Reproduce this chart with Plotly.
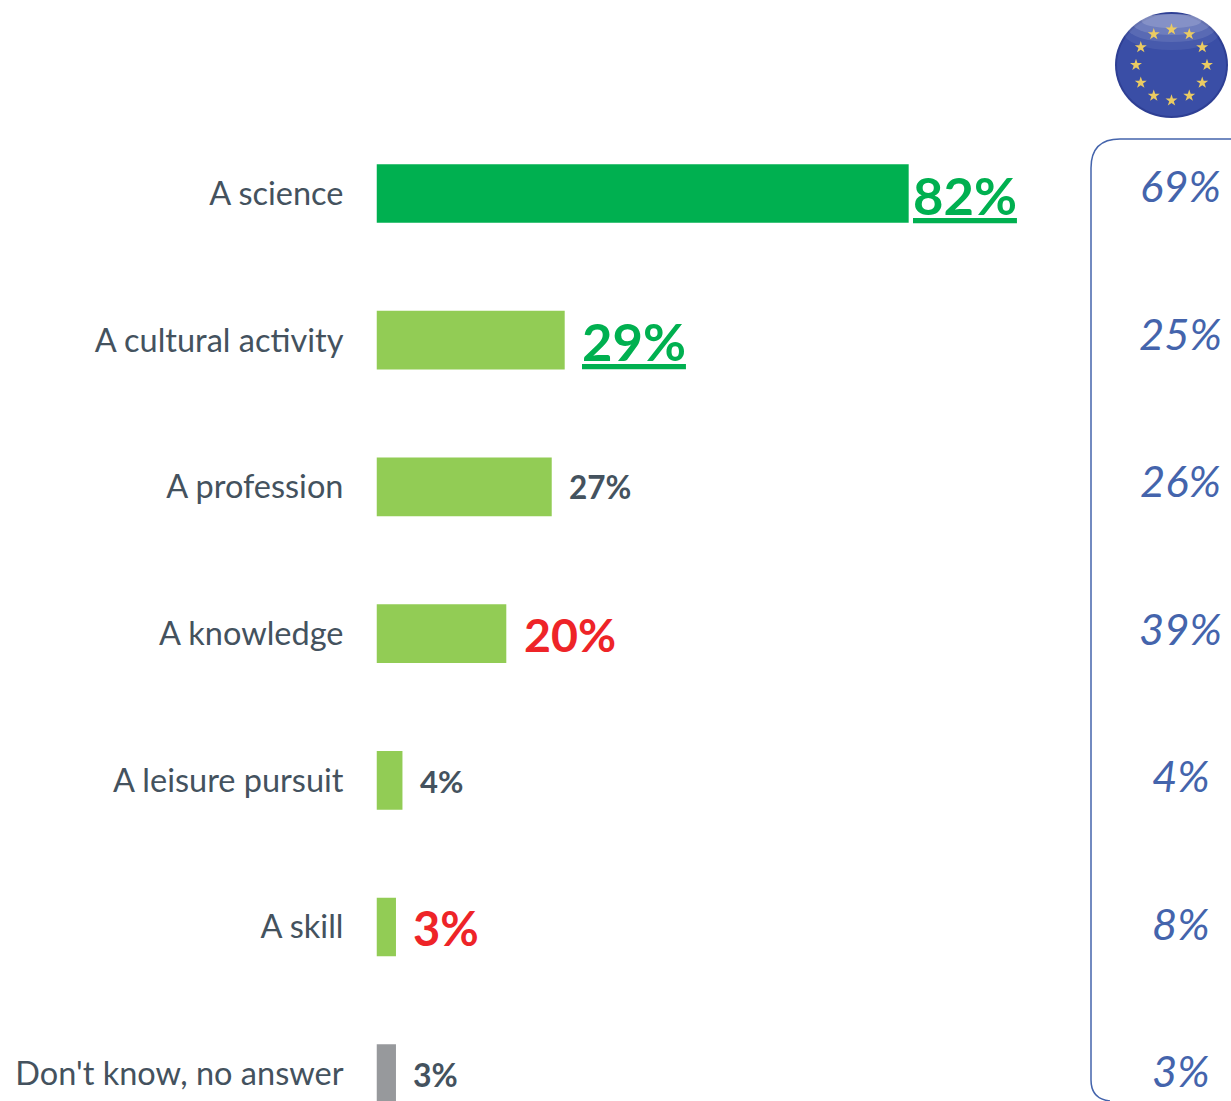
import math
import plotly.graph_objects as go

categories = ["A science", "A cultural activity", "A profession", "A knowledge",
              "A leisure pursuit", "A skill", "Don't know, no answer"]
values = [82, 29, 27, 20, 4, 3, 3]
eu_values = ["69%", "25%", "26%", "39%", "4%", "8%", "3%"]
bar_colors = ["#00B050", "#92CC55", "#92CC55", "#92CC55", "#92CC55", "#92CC55", "#97999C"]
label_sizes = [52.5, 52.5, 31.5, 46.5, 31, 47, 32]
label_colors = ["#00B050", "#00B050", "#44525E", "#EE2428", "#44525E", "#EE2428", "#44525E"]
label_underline = [True, True, False, False, False, False, False]

W, H = 1231, 1101
PLOT_L, PLOT_R = 376.5, 1231
XMAX = (PLOT_R - PLOT_L) / 6.49
ytop = 193.5
ystep = 146.7
FONT = "Lato, Carlito, Open Sans"
BLUE = "#4464AC"

def px(x):
    return x / W

def py(y):
    return 1 - y / H

fig = go.Figure()
fig.add_trace(go.Bar(y=categories, x=values, orientation="h", marker=dict(color=bar_colors, line_width=0),
                     width=0.4, showlegend=False, hoverinfo="skip", cliponaxis=False))

# EU flag stars, on a second axis pair measured in pixels of the page
flag_cx, flag_cy, flag_rx, flag_ry, star_r = 1171.5, 65, 56.5, 53, 35.5
star_angles = [i * 30 for i in range(12)]
fig.add_trace(go.Scatter(
    x=[flag_cx + star_r * math.cos(math.radians(a)) for a in star_angles],
    y=[flag_cy + star_r * math.sin(math.radians(a)) for a in star_angles],
    xaxis="x2", yaxis="y2", mode="markers", showlegend=False, hoverinfo="skip",
    marker=dict(symbol="star", size=9, color="#EBCB62", line=dict(width=0))))

annotations = []
for c, v, s, col, u in zip(categories, values, label_sizes, label_colors, label_underline):
    t = f"{v}%"
    if u:
        t = f"<u>{t}</u>"
    annotations.append(dict(x=v, y=c, xref="x", yref="y", text=f"<b>{t}</b>", showarrow=False,
                            xanchor="left", xshift=15.5 if v != 82 else 2, yshift=-0.5,
                            font=dict(family=FONT, size=s, color=col)))
for i, e in enumerate(eu_values):
    annotations.append(dict(x=1180.5, xref="x2", y=185 + i * 147.5, yref="y2", text=f"<i>{e}</i>",
                            showarrow=False, xanchor="center", yanchor="middle",
                            font=dict(family=FONT, size=43.5, color=BLUE)))

box = (f"M {px(1231)} {py(139)} L {px(1120)} {py(139)} "
       f"Q {px(1091)} {py(139)} {px(1091)} {py(168)} "
       f"L {px(1091)} {py(1080)} Q {px(1091)} {py(1099)} {px(1110)} {py(1101)}")

shapes = [dict(type="path", xref="paper", yref="paper", path=box, line=dict(color=BLUE, width=1.5))]
# Flag disc: dark rim, blue body, pale sheen at the top
shapes.append(dict(type="circle", xref="x2", yref="y2", x0=flag_cx - flag_rx, x1=flag_cx + flag_rx,
                   y0=flag_cy - flag_ry, y1=flag_cy + flag_ry, fillcolor="#2E3F94", line=dict(width=0),
                   layer="below"))
shapes.append(dict(type="circle", xref="x2", yref="y2", x0=flag_cx - flag_rx + 2, x1=flag_cx + flag_rx - 2,
                   y0=flag_cy - flag_ry + 2, y1=flag_cy + flag_ry - 2, fillcolor="#3A4EA6", line=dict(width=0),
                   layer="below"))
for hw, y1, op in [(48, 50, 0.07), (44, 42, 0.10), (38, 35, 0.13), (30, 28, 0.16)]:
    shapes.append(dict(type="circle", xref="x2", yref="y2", x0=flag_cx - hw, x1=flag_cx + hw,
                       y0=14, y1=y1, fillcolor="#FFFFFF", opacity=op, line=dict(width=0), layer="below"))

fig.update_layout(
    width=W, height=H, margin=dict(l=0, r=0, t=0, b=0),
    paper_bgcolor="white", plot_bgcolor="rgba(0,0,0,0)", bargap=0.6,
    annotations=annotations, shapes=shapes,
    xaxis=dict(domain=[PLOT_L / W, 1], range=[0, XMAX], visible=False),
    yaxis=dict(domain=[0, 1], autorange=False,
               range=[6 + (H - (ytop + 6 * ystep)) / ystep, -ytop / ystep],
               showline=False, showgrid=False, ticks="", ticklabelstandoff=32,
               tickfont=dict(family=FONT, size=32.5, color="#44525E"), automargin=False),
    xaxis2=dict(domain=[0, 1], range=[0, W], visible=False, anchor="y2"),
    yaxis2=dict(domain=[0, 1], range=[H, 0], visible=False, anchor="x2"),
)
fig.write_html("out.html", config=dict(displayModeBar=False),
               post_script="document.body.style.margin='0';document.body.style.overflow='hidden';")
